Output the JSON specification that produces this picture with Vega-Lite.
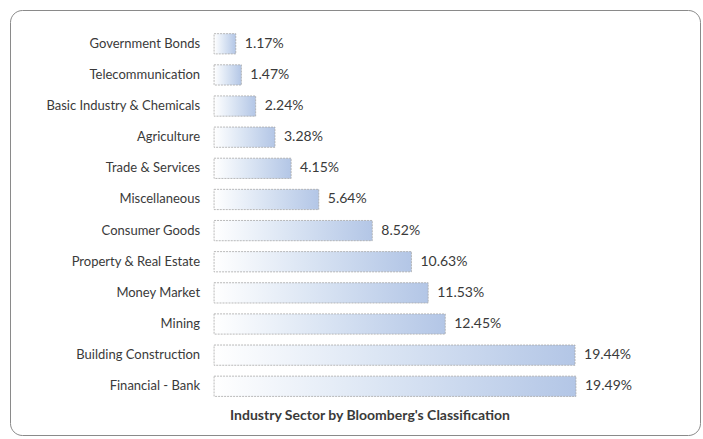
{
  "$schema": "https://vega.github.io/schema/vega-lite/v6.json",
  "autosize": "none",
  "width": 690,
  "height": 425,
  "padding": {"left": 10, "top": 10, "right": 3, "bottom": 4},
  "background": "#ffffff",
  "config": {
    "view": {"stroke": "#8a8a8a", "strokeWidth": 1, "cornerRadius": 12},
    "font": "Lato"
  },
  "title": {
    "text": "Industry Sector by Bloomberg's Classification",
    "orient": "bottom",
    "offset": -26,
    "dx": 15,
    "fontSize": 14,
    "fontWeight": "bold",
    "color": "#3a3a3a",
    "font": "Lato"
  },
  "data": {
    "values": [
      {"sector": "Government Bonds", "share": 0.0117},
      {"sector": "Telecommunication", "share": 0.0147},
      {"sector": "Basic Industry & Chemicals", "share": 0.0224},
      {"sector": "Agriculture", "share": 0.0328},
      {"sector": "Trade & Services", "share": 0.0415},
      {"sector": "Miscellaneous", "share": 0.0564},
      {"sector": "Consumer Goods", "share": 0.0852},
      {"sector": "Property & Real Estate", "share": 0.1063},
      {"sector": "Money Market", "share": 0.1153},
      {"sector": "Mining", "share": 0.1245},
      {"sector": "Building Construction", "share": 0.1944},
      {"sector": "Financial - Bank", "share": 0.1949}
    ]
  },
  "encoding": {
    "y": {
      "field": "sector",
      "type": "nominal",
      "sort": null,
      "axis": null,
      "scale": {"paddingInner": 0.35, "paddingOuter": 1.075, "align": 0.38}
    }
  },
  "layer": [
    {
      "mark": {
        "type": "bar",
        "fill": {
          "gradient": "linear",
          "x1": 0, "y1": 0, "x2": 1, "y2": 0,
          "stops": [
            {"offset": 0, "color": "#ffffff"},
            {"offset": 0.45, "color": "#dce6f4"},
            {"offset": 1, "color": "#b3c6e6"}
          ]
        },
        "stroke": "#a8a8a8",
        "strokeWidth": 0.8,
        "strokeDash": [2, 1]
      },
      "encoding": {
        "x": {
          "field": "share",
          "type": "quantitative",
          "axis": null,
          "scale": {"domain": [-0.1099, 0.2617], "nice": false, "zero": false}
        }
      }
    },
    {
      "mark": {"type": "text", "align": "left", "baseline": "middle", "dx": 9, "fontSize": 14, "color": "#3a3a3a"},
      "encoding": {
        "x": {"field": "share", "type": "quantitative"},
        "text": {"field": "share", "type": "quantitative", "format": ".2%"}
      }
    },
    {
      "mark": {"type": "text", "align": "right", "baseline": "middle", "dx": -14, "fontSize": 13, "color": "#3a3a3a"},
      "encoding": {
        "x": {"datum": 0, "type": "quantitative"},
        "text": {"field": "sector", "type": "nominal"}
      }
    }
  ]
}
